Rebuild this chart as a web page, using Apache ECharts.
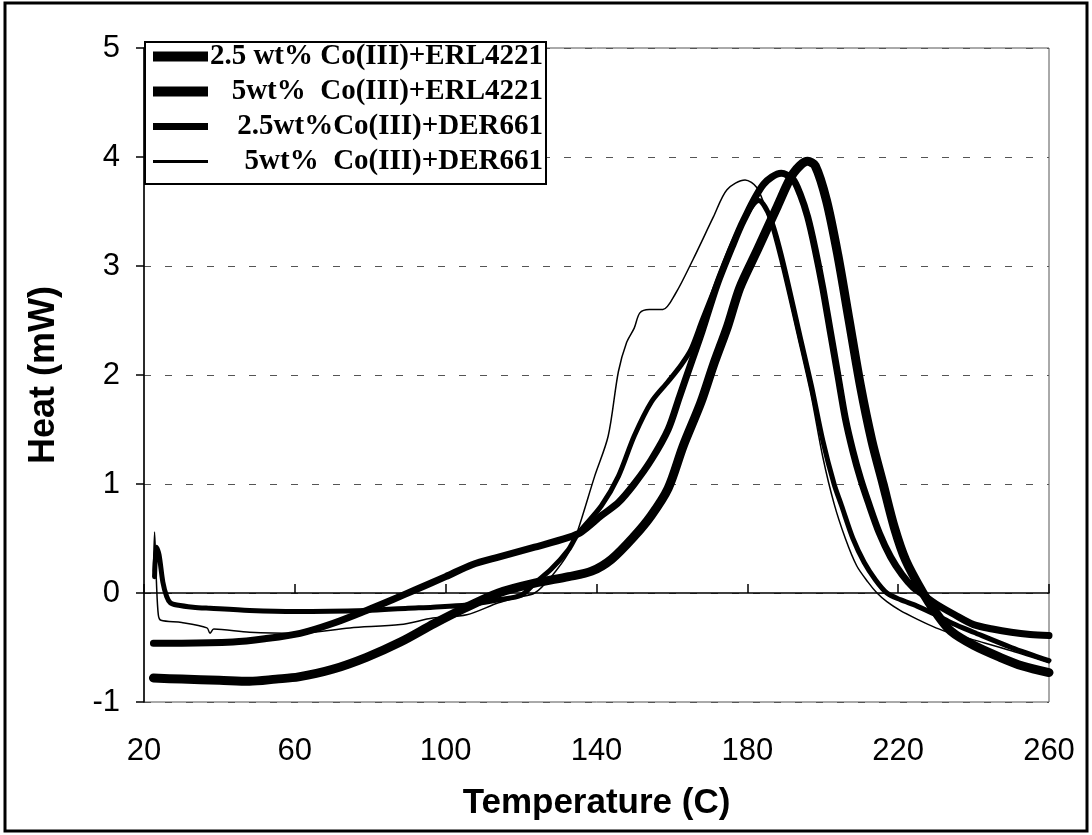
<!DOCTYPE html>
<html>
<head>
<meta charset="utf-8">
<script src="https://cdn.jsdelivr.net/npm/echarts@6/dist/echarts.min.js"></script>
<style>
html,body{margin:0;padding:0;background:#fff;}
#chart{width:1092px;height:835px;}
</style>
</head>
<body>
<div id="chart"></div>
<script>
// ---- data ----
const seriesNames = [
  '2.5 wt% Co(III)+ERL4221',
  '5wt%  Co(III)+ERL4221',
  '2.5wt%Co(III)+DER661',
  '5wt%  Co(III)+DER661'
];
const xTicks = [20, 60, 100, 140, 180, 220, 260];
const yTicks = [-1, 0, 1, 2, 3, 4, 5];

const t1 = [22.5,30,40,48,55,61,70,79,88,97,105,114,123.6,132.6,138.7,144,150,154.5,159,163,167.7,171,174.8,178,182.7,188,192.2,196,198,201,204,207,210,213,216,219,222,226.6,230,234,240,247,253,260];
const v1 = [-0.78,-0.79,-0.8,-0.81,-0.79,-0.77,-0.7,-0.59,-0.45,-0.28,-0.14,0.0,0.09,0.15,0.2,0.31,0.52,0.71,0.96,1.35,1.75,2.09,2.45,2.8,3.15,3.55,3.85,3.96,3.92,3.6,3.1,2.5,1.9,1.4,1.0,0.6,0.3,0,-0.18,-0.35,-0.48,-0.59,-0.67,-0.73];

const t2 = [22.5,30,43.6,52,61.4,70,79,86,92,100,107,114,123.6,132.6,136,141.3,145.8,150,154.5,159,162,165,168,172,176,179,184.3,189,192,194,196,198,200,202,204,206,208,210,212,215,218,221,224,226,230,235,240,245,250,255,260];
const v2 = [-0.46,-0.46,-0.45,-0.42,-0.37,-0.28,-0.16,-0.06,0.03,0.15,0.26,0.33,0.42,0.51,0.56,0.71,0.83,1.0,1.22,1.5,1.8,2.1,2.4,2.83,3.18,3.42,3.75,3.85,3.8,3.66,3.45,3.15,2.8,2.4,2.0,1.6,1.3,1.05,0.84,0.55,0.33,0.17,0.05,0.0,-0.1,-0.2,-0.29,-0.33,-0.36,-0.38,-0.39];

const t3 = [22.8,23.3,24,25,26,27,28.7,33,37.5,48,60,79,90,96.6,105.6,114.4,120,123.6,128,132.6,135,141.3,145.8,150,154.5,159,162.4,165,168,172,176,180,183,186,189,194,197,200,203,205,208,211,214,217,220.5,225,230,234.5,240,250,260];
const v3 = [0.15,0.42,0.35,0.1,-0.03,-0.09,-0.11,-0.13,-0.14,-0.16,-0.17,-0.16,-0.14,-0.13,-0.11,-0.06,-0.02,0.09,0.22,0.4,0.54,0.8,1.07,1.44,1.75,1.94,2.09,2.23,2.5,2.85,3.2,3.48,3.6,3.45,3.1,2.35,1.9,1.4,1.0,0.8,0.5,0.28,0.12,0.0,-0.06,-0.12,-0.2,-0.28,-0.36,-0.5,-0.62];

const t4 = [22.5,22.8,23.3,23.8,24.5,30,36.7,37.5,38.5,48,61,74.6,88,96.6,105.6,114,119,123.6,128,132.6,135,139.5,143.1,145.8,148,150,151.5,154,157.6,161,165.6,171,174.6,179.4,182.5,185,188.6,194,197,200,203,206,209,212,214.4,217,220.5,225,230,235,240,250,260];
const v4 = [0.2,0.56,0.1,-0.2,-0.25,-0.27,-0.32,-0.37,-0.33,-0.36,-0.37,-0.32,-0.29,-0.23,-0.2,-0.09,-0.04,0.0,0.15,0.37,0.57,1.07,1.44,2.03,2.3,2.43,2.57,2.6,2.6,2.75,3.06,3.45,3.7,3.79,3.72,3.51,3.06,2.26,1.8,1.25,0.82,0.5,0.25,0.1,0.0,-0.08,-0.16,-0.24,-0.32,-0.38,-0.43,-0.53,-0.64];

// ---- build chart ----
const pair = (t, v) => t.map((x, i) => [x, v[i]]);
const allT = [t1, t2, t3, t4];
const allV = [v1, v2, v3, v4];
const lineWidths = [9, 7, 5, 1.5];
const legendWidths = [10, 10, 7, 3];

const chart = echarts.init(document.getElementById('chart'), null, {renderer: 'canvas'});

const series = seriesNames.map((name, i) => ({
  name: name,
  type: 'line',
  data: pair(allT[i], allV[i]),
  xAxisIndex: 0,
  symbol: 'none',
  smooth: 0.3,
  lineStyle: {color: '#000', width: lineWidths[i], cap: 'round', join: 'round'},
  itemStyle: {color: '#000'},
  z: 3 + i,
  animation: false
}));

const labelFont = {fontFamily: 'Liberation Sans, Arial, sans-serif', fontSize: 31, color: '#000'};
const xNameFont = {fontFamily: 'Liberation Sans, Arial, sans-serif', fontSize: 35, fontWeight: 'bold', color: '#000'};
const yNameFont = {fontFamily: 'Liberation Sans, Arial, sans-serif', fontSize: 36, fontWeight: 'bold', color: '#000'};

const option = {
  backgroundColor: '#fff',
  animation: false,
  grid: {left: 144, right: 43, top: 48, bottom: 133, show: true, borderColor: '#555', borderWidth: 1, backgroundColor: 'transparent'},
  legend: {
    orient: 'vertical',
    left: 145,
    top: 42,
    padding: [0, 3, 8, 3],
    itemGap: 6,
    itemWidth: 55,
    itemHeight: 24,
    backgroundColor: '#fff',
    borderColor: '#000',
    borderWidth: 2,
    selectedMode: false,
    data: seriesNames.map((n, i) => ({
      name: n,
      itemStyle: {opacity: 0},
      lineStyle: {color: '#000', width: legendWidths[i], cap: 'butt', opacity: 1}
    })),
    formatter: n => '{a|' + n + '}',
    textStyle: {
      rich: {
        a: {width: 330, lineHeight: 34, align: 'right', fontFamily: 'Liberation Serif, Times New Roman, serif', fontWeight: 'bold', fontSize: 29, color: '#000'}
      }
    }
  },
  xAxis: [
    {
      type: 'value', min: 20, max: 260, interval: 40, position: 'bottom',
      axisLine: {show: false, onZero: false},
      axisTick: {show: false},
      splitLine: {show: false},
      axisLabel: Object.assign({margin: 34, formatter: v => xTicks.includes(v) ? String(v) : ''}, labelFont),
      name: 'Temperature (C)', nameLocation: 'middle', nameGap: 84,
      nameTextStyle: xNameFont
    },
    {
      type: 'value', min: 20, max: 260, interval: 40,
      axisLine: {show: true, onZero: true, lineStyle: {color: '#000', width: 1.5}},
      axisTick: {show: true, inside: false, length: 9, lineStyle: {color: '#000', width: 1.5}},
      axisLabel: {show: false},
      splitLine: {show: false}
    }
  ],
  yAxis: {
    type: 'value', min: -1, max: 5, interval: 1,
    axisLine: {show: true, lineStyle: {color: '#000', width: 1.5}},
    axisTick: {show: true, length: 8, lineStyle: {color: '#000', width: 1.5}},
    axisLabel: Object.assign({margin: 24, formatter: v => yTicks.includes(v) ? String(v) : ''}, labelFont),
    splitLine: {show: true, lineStyle: {color: '#555', width: 1, type: [7, 14]}},
    name: 'Heat (mW)', nameLocation: 'middle', nameGap: 82, nameRotate: 90,
    nameTextStyle: yNameFont
  },
  graphic: [
    {type: 'rect', shape: {x: 5, y: 3, width: 1082, height: 828}, style: {fill: 'none', stroke: '#000', lineWidth: 3}, silent: true, z: 100}
  ],
  series: series
};
chart.setOption(option);
</script>
</body>
</html>
